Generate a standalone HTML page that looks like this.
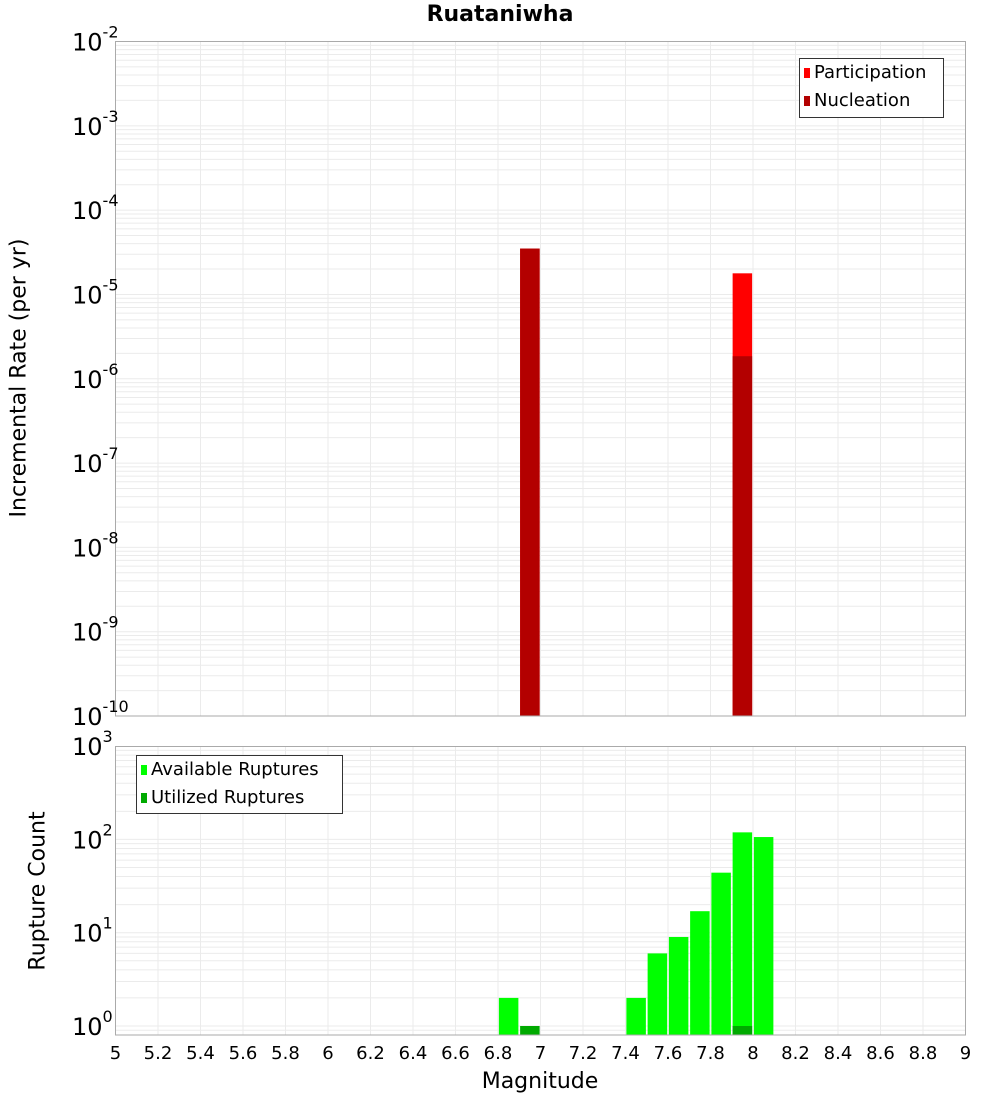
<!DOCTYPE html>
<html><head><meta charset="utf-8"><style>
body{margin:0;background:#fff;}
svg{display:block;font-family:"DejaVu Sans","Liberation Sans",sans-serif;}
</style></head><body>
<svg id="c" width="1000" height="1100" viewBox="0 0 1000 1100"></svg>
<script>
const magBins=[6.95,7.95];
const participation=[3.5e-5,1.78e-5];
const nucleation=[3.5e-5,1.85e-6];
const countBins=[6.85,6.95,7.45,7.55,7.65,7.75,7.85,7.95,8.05];
const available=[2,0,2,6,9,17,44,119,106];
const utilized=[0,1,0,0,0,0,0,1,0];
const xTicks=[5,5.2,5.4,5.6,5.8,6,6.2,6.4,6.6,6.8,7,7.2,7.4,7.6,7.8,8,8.2,8.4,8.6,8.8,9];
const topExps=[-2,-3,-4,-5,-6,-7,-8,-9,-10];
const botExps=[3,2,1,0];

const NS="http://www.w3.org/2000/svg";
const svg=document.getElementById('c');
function el(t,a,p){const e=document.createElementNS(NS,t);for(const k in a)e.setAttribute(k,a[k]);(p||svg).appendChild(e);return e;}
const L=115.5,R=965.5;
const x=v=>L+(v-5)*(R-L)/4;
const T1=41.5,B1=716;
const y1=v=>T1+(-2-Math.log10(v))*(B1-T1)/8;
const T2=746.5,B2=1035;
const D2=93.3;
const y2=v=>1026-Math.log10(v)*D2;

function grid(top,bot,yf,lo,hi,name){
  const g=el('g',{});
  
  
  for(let e=lo;e<=hi;e++)for(let m=1;m<10;m++){
    const yy=yf(m*Math.pow(10,e));
    if(yy<top-0.5||yy>bot+0.5)continue;
    el('line',{x1:L,x2:R,y1:yy,y2:yy,stroke:'#ebebeb','stroke-width':1},g);
  }
  xTicks.forEach(t=>el('line',{x1:x(t),x2:x(t),y1:top,y2:bot,stroke:'#ebebeb','stroke-width':1},g));
}
grid(T1,B1,y1,-10,-3,'top-grid');
grid(T2,B2,y2,-1,2,'bottom-grid');

const bw=19.5;
magBins.forEach((m,i)=>{
  let r=el('rect',{x:x(m)-bw/2,y:y1(participation[i]),width:bw,height:B1-y1(participation[i]),fill:'#ff0000'});
  
  
  r=el('rect',{x:x(m)-bw/2,y:y1(nucleation[i]),width:bw,height:B1-y1(nucleation[i]),fill:'#b30000'});
  
  
});
countBins.forEach((m,i)=>{
  if(available[i]>0){
    const r=el('rect',{x:x(m)-bw/2,y:y2(available[i]),width:bw,height:B2-y2(available[i]),fill:'#00ff00'});
    
    
  }
  if(utilized[i]>0){
    const r=el('rect',{x:x(m)-bw/2,y:y2(utilized[i]),width:bw,height:B2-y2(utilized[i]),fill:'#00aa00'});
    
    
  }
});

el('rect',{x:L,y:T1,width:R-L,height:B1-T1,fill:'none',stroke:'#aaa','stroke-width':1});
el('rect',{x:L,y:T2,width:R-L,height:B2-T2,fill:'none',stroke:'#aaa','stroke-width':1});

function ylab(e,yy,name){
  const t=el('text',{x:100,y:yy+9,'text-anchor':'end','font-size':24,fill:'#000'});
  
  
  t.textContent='10';
  const s=el('tspan',{dy:-13,'font-size':16},t);s.textContent=String(e);
  // shift so superscript ends at ~115
  t.setAttribute('x',100);
}
topExps.forEach(e=>{
  const t=el('text',{x:72,y:y1(Math.pow(10,e))+9,'font-size':24,fill:'#000'});
  
  
  t.textContent='10';
  const s=el('tspan',{dy:-13,'font-size':16},t);s.textContent=String(e);
});
botExps.forEach(e=>{
  const t=el('text',{x:72,y:y2(Math.pow(10,e))+9,'font-size':24,fill:'#000'});
  
  
  t.textContent='10';
  const s=el('tspan',{dy:-13,'font-size':16},t);s.textContent=String(e);
});
xTicks.forEach(v=>{
  const t=el('text',{x:x(v),y:1059,'text-anchor':'middle','font-size':18,fill:'#000'});
  
  
  t.textContent=String(v);
});
</script>
<svg width="0" height="0"></svg>
<div style="position:absolute;left:0;top:0;width:1000px;height:1100px;pointer-events:none;font-family:'DejaVu Sans','Liberation Sans',sans-serif;">
  <div style="position:absolute;left:0;width:1000px;top:2px;text-align:center;font-weight:bold;font-size:22px;">Ruataniwha</div>
  <div style="position:absolute;left:19px;top:378px;width:0;height:0;"><div style="position:absolute;transform:translate(-50%,-50%) rotate(-90deg);white-space:nowrap;font-size:22px;">Incremental Rate (per yr)</div></div>
  <div style="position:absolute;left:38px;top:891px;width:0;height:0;"><div style="position:absolute;transform:translate(-50%,-50%) rotate(-90deg);white-space:nowrap;font-size:22px;">Rupture Count</div></div>
  <div style="position:absolute;left:440px;width:200px;top:1069px;text-align:center;font-size:22px;">Magnitude</div>
  <div style="position:absolute;left:799px;top:58px;width:143px;height:58px;border:1px solid #333;background:#fff;font-size:18px;">
    <div style="position:absolute;left:4px;top:3px;white-space:nowrap;"><span style="display:inline-block;width:6px;height:10px;background:#f00;margin-right:4px;"></span>Participation</div>
    <div style="position:absolute;left:4px;top:31px;white-space:nowrap;"><span style="display:inline-block;width:6px;height:10px;background:#b30000;margin-right:4px;"></span>Nucleation</div>
  </div>
  <div style="position:absolute;left:136px;top:755px;width:205px;height:57px;border:1px solid #333;background:#fff;font-size:18px;">
    <div style="position:absolute;left:4px;top:3px;white-space:nowrap;"><span style="display:inline-block;width:6px;height:10px;background:#0f0;margin-right:4px;"></span>Available Ruptures</div>
    <div style="position:absolute;left:4px;top:31px;white-space:nowrap;"><span style="display:inline-block;width:6px;height:10px;background:#0a0;margin-right:4px;"></span>Utilized Ruptures</div>
  </div>
</div>
</body></html>
